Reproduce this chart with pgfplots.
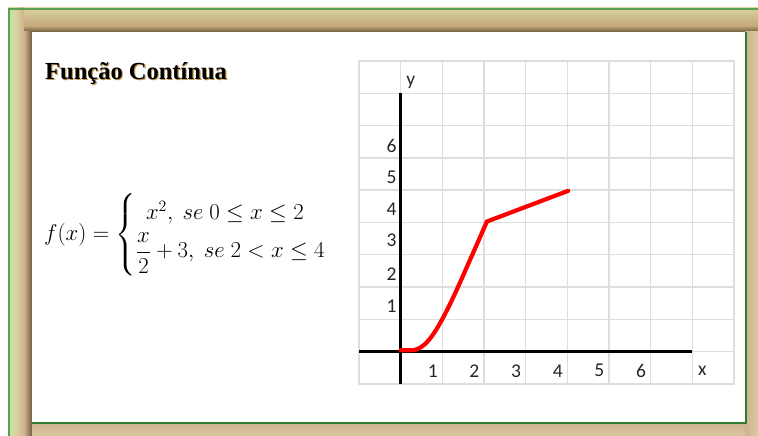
\documentclass[border=0pt]{standalone}
\usepackage{graphicx}
\usepackage{fontspec}
\usepackage{amsmath}
\usepackage{pgfplots}
\pgfplotsset{compat=1.18}
\setmainfont{Liberation Serif}
\newfontfamily\carlito{Carlito}

\definecolor{gridgray}{HTML}{DEDEDE}
\definecolor{framegreen}{HTML}{5A9E4E}
\definecolor{innergreen}{HTML}{2F7D32}
\definecolor{woodlight}{HTML}{D9D3A0}
\definecolor{woodmid}{HTML}{D0B292}
\definecolor{woodtan}{HTML}{C2A67A}
\definecolor{wooddark}{HTML}{5E5232}
\definecolor{titleshadow}{HTML}{C49A52}
\definecolor{ticktext}{HTML}{262626}

\begin{document}
\begin{tikzpicture}[x=1pt,y=1pt]
  \path[use as bounding box] (0,0) rectangle (758,436);
  \fill[white] (0,0) rectangle (758,436);

  % wooden frame
  \fill[woodmid] (8,0) rectangle (758,428);
  \shade[top color=woodlight, bottom color=woodtan] (8,410) rectangle (758,428);
  \shade[top color=woodtan, bottom color=wooddark] (8,403) rectangle (758,410.2);
  \shade[left color=woodlight!75!green!70!white, right color=woodmid, middle color=woodlight]
    (8,0) rectangle (24,428);
  \shade[left color=woodmid, right color=wooddark!85!woodmid] (24,0) rectangle (32,404);
  \shade[left color=woodmid, right color=woodlight!80!woodmid] (745,0) rectangle (758,404);
  \shade[top color=woodmid, bottom color=woodlight!60!woodmid] (32,0) rectangle (745,14);
  \draw[framegreen, line width=2.5pt] (9.2,0) -- (9.2,427.2) -- (758,427.2);

  % white panel
  \fill[white] (31.7,14.3) rectangle (745,404.3);
  \draw[innergreen, line width=2pt] (31.7,13.4) -- (746,13.4) -- (746,404.3);

  % title
  \node[anchor=base west, inner sep=0pt, text=titleshadow,
        font=\fontsize{24.5}{24.5}\selectfont\bfseries] at (46.1,355.1) {Função Contínua};
  \node[anchor=base west, inner sep=0pt,
        font=\fontsize{24.5}{24.5}\selectfont\bfseries] at (45,356) {Função Contínua};

  % definition of the function
  \node[anchor=west, inner sep=0pt, font=\fontsize{20.74}{25}\selectfont] at (44,201)
    {\scalebox{1.1}{$f(x)=\begin{cases} \,\;x^2,\ se\ 0\le x\le 2\\[3pt] \dfrac{x}{2}+3,\ se\ 2<x\le 4\end{cases}$}};

  \begin{axis}[
    at={(359pt,52pt)}, anchor=south west,
    scale only axis, width=375pt, height=323pt,
    xmin=-1, xmax=8, ymin=-1, ymax=9,
    xtick={-1,0,...,8}, ytick={-1,0,...,9},
    xticklabels={}, yticklabels={},
    major tick length=0pt,
    grid=major,
    grid style={draw=gridgray, line width=1.4pt},
    axis line style={draw=gridgray, line width=1.4pt},
    clip=false,
  ]
    % coordinate axes
    \draw[black, line width=2.6pt] (axis cs:-1,0) -- (axis cs:7,0);
    \draw[black, line width=2.6pt] (axis cs:0,-1) -- (axis cs:0,8);

    % f(x) = x^2 on [0,2]
    \addplot[red, line width=4.2pt, smooth, tension=0.55, line cap=round, line join=round]
      coordinates {(0,0.05) (0.35,0.06) (0.62,0.28) (0.9,0.78) (1.25,1.65) (1.65,2.8) (2.07,4.03)};
    % f(x) = x/2 + 3 on (2,4]
    \addplot[red, line width=4.2pt, line cap=round, line join=round]
      coordinates {(2.07,4.03) (4.02,4.98)};

    % axis numbering
    \begin{scope}[every node/.style={text=ticktext, font=\carlito\fontsize{19.5}{19.5}\selectfont, inner sep=0pt}]
      \node at (axis cs:0.77,-0.59) {1};
      \node at (axis cs:1.77,-0.59) {2};
      \node at (axis cs:2.77,-0.59) {3};
      \node at (axis cs:3.77,-0.59) {4};
      \node at (axis cs:4.77,-0.59) {5};
      \node at (axis cs:5.77,-0.59) {6};
      \node at (axis cs:-0.22,1.42) {1};
      \node at (axis cs:-0.22,2.41) {2};
      \node at (axis cs:-0.22,3.44) {3};
      \node at (axis cs:-0.22,4.40) {4};
      \node at (axis cs:-0.22,5.39) {5};
      \node at (axis cs:-0.22,6.38) {6};
      \node at (axis cs:7.24,-0.59) {x};
      \node at (axis cs:0.24,8.34) {y};
    \end{scope}
  \end{axis}
\end{tikzpicture}
\end{document}
